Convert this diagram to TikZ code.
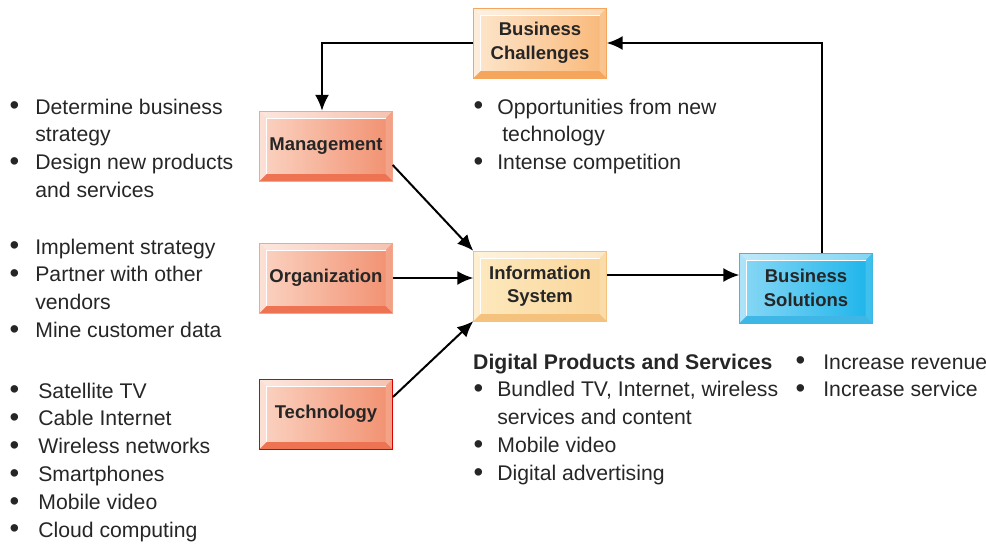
\documentclass[tikz,border=0pt]{standalone}
\usepackage{fontspec}
\setmainfont{Liberation Sans}
\usetikzlibrary{arrows.meta}

\definecolor{chalA}{HTML}{FDE6CC}
\definecolor{chalB}{HTML}{F9B878}
\definecolor{chalR}{HTML}{F6A65C}
\definecolor{salA}{HTML}{FBD3C3}
\definecolor{salB}{HTML}{F1906F}
\definecolor{salR}{HTML}{EE7352}
\definecolor{infoA}{HTML}{FDE9BE}
\definecolor{infoB}{HTML}{FAD59A}
\definecolor{infoR}{HTML}{F5C27E}
\definecolor{solA}{HTML}{8AD8F6}
\definecolor{solB}{HTML}{1BB4EA}
\definecolor{solR}{HTML}{3FB7E6}

\newcommand\blt{\raisebox{-0.8pt}{\scalebox{1.3}{\textbullet}}}

\tikzset{
  box/.style={minimum width=133pt, minimum height=70pt, inner sep=0pt,
    align=center, font=\fontsize{18.5}{23.5}\selectfont\bfseries, text=black!85,
    path picture={
      \def\bb{path picture bounding box}
      \fill[#1] (\bb.south west) -- ([shift={(7pt,7pt)}]\bb.south west)
        -- ([shift={(-7pt,7pt)}]\bb.south east) -- (\bb.south east) -- cycle;
      \fill[white, opacity=.45] (\bb.north west) -- ([shift={(7pt,-7pt)}]\bb.north west)
        -- ([shift={(-7pt,-7pt)}]\bb.north east) -- (\bb.north east) -- cycle;
      \fill[white, opacity=.3] (\bb.north west) -- ([shift={(7pt,-7pt)}]\bb.north west)
        -- ([shift={(7pt,7pt)}]\bb.south west) -- (\bb.south west) -- cycle;
      \fill[white, opacity=.15] (\bb.north east) -- ([shift={(-7pt,-7pt)}]\bb.north east)
        -- ([shift={(-7pt,7pt)}]\bb.south east) -- (\bb.south east) -- cycle;
      \draw[white, line width=1pt] ([shift={(7pt,7pt)}]\bb.south west)
        -- ([shift={(7pt,-7pt)}]\bb.north west) -- ([shift={(-7pt,-7pt)}]\bb.north east);
    }},
  link/.style={line width=2pt, -{Latex[length=16pt,width=14pt]}},
  blist/.style={anchor=base west, inner sep=0pt, align=left,
    font=\fontsize{21.2}{27.8}\selectfont, text=black!85}
}

\begin{document}
\begin{tikzpicture}[x=1pt, y=-1pt]
  \useasboundingbox (0,0) rectangle (986,546);

  \node[box=chalR, draw=chalR, left color=chalA, right color=chalB] (chal) at (540,43) {Business\\Challenges};
  \node[box=salR, draw=salB!80, left color=salA, right color=salB] (mgmt) at (326,146) {Management};
  \node[box=salR, draw=salB!80, left color=salA, right color=salB] (org) at (326,278) {Organization};
  \node[box=salR, draw=red!85!black, line width=1pt, left color=salA, right color=salB] (tech) at (326,414) {Technology};
  \node[box=infoR, draw=infoR, left color=infoA, right color=infoB] (info) at (540,286) {Information\\System};
  \node[box=solR, draw=solR, left color=solA, right color=solB] (sol) at (806,288) {Business\\Solutions};

  \draw[link] (chal.west) -| ([xshift=-4pt]mgmt.north);
  \draw[link] ([xshift=16pt]sol.north) |- (chal.east);
  \draw[link] ([yshift=-19pt]mgmt.east) -- (info.north west);
  \draw[link] (org.east) -- (org.east -| info.west);
  \draw[link] ([yshift=17pt]tech.east) -- (info.south west);
  \draw[link] ([yshift=11pt]info.east) -- (info.east |- 0,275 -| sol.west);

  % texts
  \node[blist] (mgmtlist) at (9.5,114) {\begin{tabular}[t]{@{}l@{\hspace{16pt}}l@{}}
    \blt & Determine business\\ & strategy\\
    \blt & Design new products\\ & and services\end{tabular}};
  \node[blist] (orglist) at (9.5,254) {\begin{tabular}[t]{@{}l@{\hspace{16pt}}l@{}}
    \blt & Implement strategy\\
    \blt & Partner with other\\ & vendors\\
    \blt & Mine customer data\end{tabular}};
  \node[blist] (techlist) at (9.5,398) {\begin{tabular}[t]{@{}l@{\hspace{19pt}}l@{}}
    \blt & Satellite TV\\
    \blt & Cable Internet\\
    \blt & Wireless networks\\
    \blt & Smartphones\\
    \blt & Mobile video\\
    \blt & Cloud computing\end{tabular}};
  \node[blist] (challist) at (473.5,114) {\begin{tabular}[t]{@{}l@{\hspace{14pt}}l@{}}
    \blt & Opportunities from new\\ & \hspace{5pt}technology\\
    \blt & Intense competition\end{tabular}};
  \node[blist] (prodlist) at (473,369) {\begin{tabular}[t]{@{}l@{\hspace{14pt}}l@{}}
    \multicolumn{2}{@{}l@{}}{\bfseries Digital Products and Services}\\
    \hspace{0.5pt}\blt & Bundled TV, Internet, wireless\\ & services and content\\
    \hspace{0.5pt}\blt & Mobile video\\
    \hspace{0.5pt}\blt & Digital advertising\end{tabular}};
  \node[blist] (sollist) at (795.5,369) {\begin{tabular}[t]{@{}l@{\hspace{18pt}}l@{}}
    \blt & Increase revenue\\
    \blt & Increase service\end{tabular}};
\end{tikzpicture}
\end{document}
